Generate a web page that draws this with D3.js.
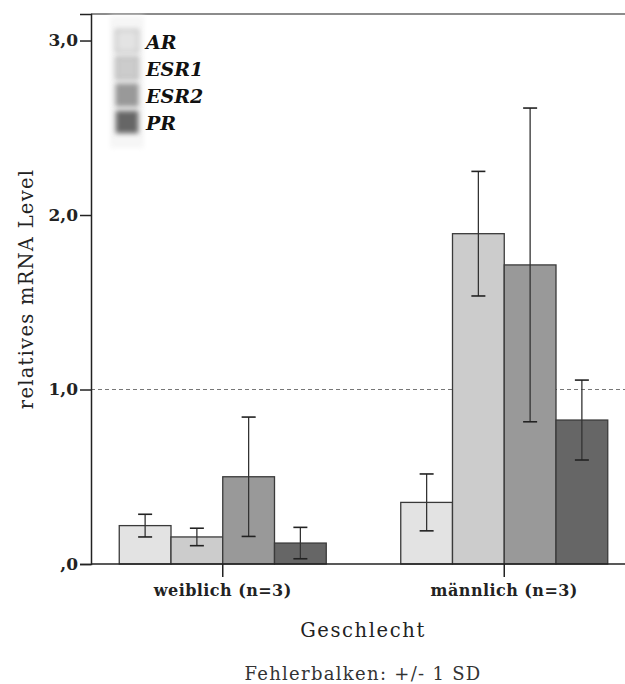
<!DOCTYPE html>
<html>
<head>
<meta charset="utf-8">
<script src="https://cdn.jsdelivr.net/npm/d3@7"></script>
<style>
  body { margin: 0; background: #fff; }
  text { font-family: "DejaVu Serif", serif; }
</style>
</head>
<body>
<div class="chart"></div>
<script>
var svgWidth = 625;
var svgHeight = 684;

// data
var groups = ["weiblich (n=3)", "männlich (n=3)"];
var genes = ["AR", "ESR1", "ESR2", "PR"];
var meanWeiblich = [0.22, 0.155, 0.50, 0.12];
var sdWeiblich = [0.065, 0.05, 0.342, 0.09];
var meanMaennlich = [0.353, 1.893, 1.714, 0.825];
var sdMaennlich = [0.163, 0.357, 0.899, 0.229];
var yTicks = [0, 1, 2, 3];
var yTickLabels = [",0", "1,0", "2,0", "3,0"];
var geneColors = ["#e3e3e3", "#cccccc", "#999999", "#666666"];

var rows = [];
genes.forEach(function(g, i) {
  rows.push({ group: groups[0], gene: g, mean: meanWeiblich[i], sd: sdWeiblich[i] });
  rows.push({ group: groups[1], gene: g, mean: meanMaennlich[i], sd: sdMaennlich[i] });
});

var plotLeft = 91, plotTop = 14, plotBottom = 564, plotRight = 625;

var svg = d3.select(".chart")
  .append("svg")
  .attr("width", svgWidth)
  .attr("height", svgHeight);

var defs = svg.append("defs");
defs.append("filter")
  .attr("id", "blur")
  .attr("x", "-50%").attr("y", "-50%")
  .attr("width", "200%").attr("height", "200%")
  .append("feGaussianBlur")
  .attr("stdDeviation", 2.4);

var y = d3.scaleLinear()
  .domain([0, 3.152])
  .range([plotBottom, plotTop]);

var x0 = d3.scaleBand()
  .domain(groups)
  .range([82, 645]);

var x1 = d3.scaleBand()
  .domain(genes)
  .range([0, 207]);

var color = d3.scaleOrdinal()
  .domain(genes)
  .range(geneColors);

// reference line at 1,0
svg.append("line")
  .attr("x1", plotLeft).attr("x2", plotRight)
  .attr("y1", y(1)).attr("y2", y(1))
  .attr("stroke", "#777")
  .attr("stroke-width", 1.2)
  .attr("stroke-dasharray", "4,3");

// bars
var barGroups = svg.selectAll(".bar")
  .data(rows)
  .enter()
  .append("g")
  .attr("class", "bar")
  .attr("transform", d => `translate(${x0(d.group) + x0.bandwidth() / 2 - 103.5}, 0)`);

barGroups.append("rect")
  .attr("x", d => x1(d.gene))
  .attr("y", d => y(d.mean))
  .attr("width", x1.bandwidth())
  .attr("height", d => y(0) - y(d.mean))
  .attr("fill", d => color(d.gene))
  .attr("stroke", "#3a3a3a")
  .attr("stroke-width", 1.3);

// error bars
barGroups.append("line")
  .attr("x1", d => x1(d.gene) + x1.bandwidth() / 2)
  .attr("x2", d => x1(d.gene) + x1.bandwidth() / 2)
  .attr("y1", d => y(d.mean - d.sd))
  .attr("y2", d => y(d.mean + d.sd))
  .attr("stroke", "#333")
  .attr("stroke-width", 1.3);

barGroups.selectAll(".cap")
  .data(d => [d.mean - d.sd, d.mean + d.sd].map(v => ({ v: v, d: d })))
  .enter()
  .append("line")
  .attr("x1", c => x1(c.d.gene) + x1.bandwidth() / 2 - 7)
  .attr("x2", c => x1(c.d.gene) + x1.bandwidth() / 2 + 7)
  .attr("y1", c => y(c.v))
  .attr("y2", c => y(c.v))
  .attr("stroke", "#222")
  .attr("stroke-width", 1.6);

// frame
svg.append("line")
  .attr("x1", plotLeft).attr("x2", plotRight)
  .attr("y1", plotTop).attr("y2", plotTop)
  .attr("stroke", "#666").attr("stroke-width", 1.6);

svg.append("line")
  .attr("x1", plotLeft).attr("x2", plotRight)
  .attr("y1", plotBottom).attr("y2", plotBottom)
  .attr("stroke", "#222").attr("stroke-width", 1.5);

// y axis
var leftAxis = d3.axisLeft(y)
  .tickValues(yTicks)
  .tickSize(11)
  .tickPadding(2)
  .tickFormat((d, i) => yTickLabels[i]);

var yAxisG = svg.append("g")
  .attr("transform", `translate(${plotLeft}, 0)`)
  .call(leftAxis);
yAxisG.select(".domain").attr("stroke", "#222").attr("stroke-width", 1.5);
yAxisG.selectAll(".tick line").attr("stroke", "#222").attr("stroke-width", 1.5);
yAxisG.selectAll(".tick text")
  .attr("font-family", "DejaVu Serif, serif")
  .attr("font-size", "17px")
  .attr("font-weight", "bold")
  .attr("fill", "#222");

// x axis
var bottomAxis = d3.axisBottom(x0)
  .tickSize(13)
  .tickPadding(8);

var xAxisG = svg.append("g")
  .attr("transform", `translate(0, ${plotBottom})`)
  .call(bottomAxis);
xAxisG.select(".domain").remove();
xAxisG.selectAll(".tick line").attr("stroke", "#222").attr("stroke-width", 1.5);
xAxisG.selectAll(".tick text")
  .attr("font-family", "DejaVu Serif, serif")
  .attr("font-size", "16px")
  .attr("font-weight", "bold")
  .attr("letter-spacing", "0.45px")
  .attr("fill", "#222");

// axis titles
svg.append("text")
  .attr("transform", `translate(33, ${(plotTop + plotBottom) / 2}) rotate(-90)`)
  .attr("text-anchor", "middle")
  .attr("font-size", "19.5px")
  .attr("letter-spacing", "1.25px")
  .attr("fill", "#222")
  .text("relatives mRNA Level");

svg.append("text")
  .attr("x", 363)
  .attr("y", 637)
  .attr("text-anchor", "middle")
  .attr("font-size", "19.5px")
  .attr("letter-spacing", "1.6px")
  .attr("fill", "#222")
  .text("Geschlecht");

svg.append("text")
  .attr("x", 363)
  .attr("y", 680)
  .attr("text-anchor", "middle")
  .attr("font-size", "18px")
  .attr("font-weight", "300")
  .attr("letter-spacing", "1.3px")
  .attr("fill", "#333")
  .text("Fehlerbalken: +/- 1 SD");

// legend
var legend = svg.append("g").attr("transform", "translate(113, 30)");
legend.append("rect")
  .attr("x", -3).attr("y", -14)
  .attr("width", 34).attr("height", 132)
  .attr("fill", "#f6f6f6")
  .attr("filter", "url(#blur)");

var legendItems = legend.selectAll(".legend-item")
  .data(genes)
  .enter()
  .append("g")
  .attr("class", "legend-item")
  .attr("transform", (d, i) => `translate(0, ${i * 27})`);

legendItems.append("rect")
  .attr("x", 3).attr("y", 0)
  .attr("width", 22).attr("height", 22)
  .attr("fill", d => color(d))
  .attr("stroke", "#888")
  .attr("stroke-width", 1)
  .attr("filter", "url(#blur)");

legendItems.append("text")
  .attr("x", 33)
  .attr("y", 19)
  .attr("font-size", "19px")
  .attr("font-weight", "bold")
  .attr("font-style", "italic")
  .attr("fill", "#111")
  .text(d => d);
</script>
</body>
</html>
